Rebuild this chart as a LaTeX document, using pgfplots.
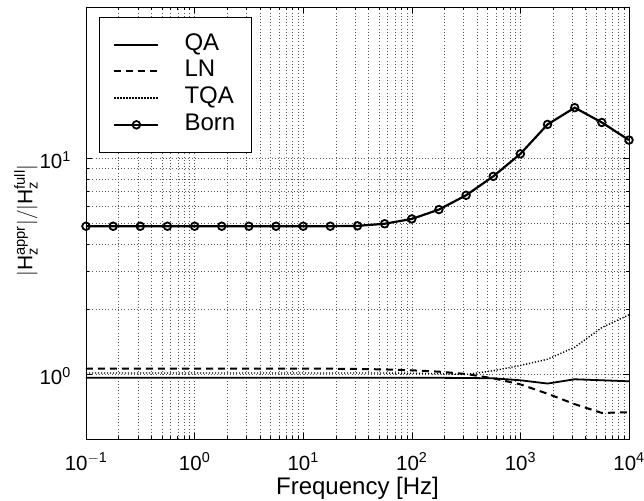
\documentclass[border=0pt]{standalone}
\usepackage{fontspec}
\setmainfont{Liberation Sans}
\setsansfont{Liberation Sans}
\usepackage{pgfplots}
\pgfplotsset{compat=1.18}
\pgfplotstableread{
x Born QA LN TQA
0.1     4.83 0.96 1.060 1.010
0.1778  4.83 0.96 1.060 1.010
0.3162  4.83 0.96 1.060 1.010
0.5623  4.83 0.96 1.060 1.010
1       4.83 0.96 1.060 1.010
1.778   4.83 0.96 1.060 1.010
3.162   4.83 0.96 1.060 1.010
5.623   4.83 0.96 1.060 1.010
10      4.83 0.96 1.060 1.010
17.78   4.83 0.96 1.058 1.010
31.62   4.85 0.96 1.055 1.010
56.23   4.96 0.96 1.050 1.010
100     5.22 0.96 1.040 1.008
177.8   5.77 0.96 1.025 1.003
316.2   6.72 0.958 1.000 0.995
562.3   8.22 0.955 0.955 1.035
1000    10.45 0.935 0.895 1.095
1778    14.3 0.903 0.810 1.170
3162    17.1 0.945 0.725 1.330
5623    14.6 0.935 0.660 1.640
10000   12.1 0.925 0.665 1.880
}\datatable
\begin{document}
\begin{tikzpicture}
\useasboundingbox (-86pt,-61pt) rectangle (558pt,439pt);
\begin{axis}[
  xmode=log, ymode=log,
  scale only axis, width=543pt, height=432pt,
  xmin=0.1, xmax=10000, ymin=0.5, ymax=50,
  xtick={0.1,1,10,100,1000,10000},
  xticklabels={$\mathsf{10^{-1}}$,$\mathsf{10^{0}}$,$\mathsf{10^{1}}$,$\mathsf{10^{2}}$,$\mathsf{10^{3}}$,$\mathsf{10^{4}}$},
  ytick={1,10},
  yticklabels={$\mathsf{10^{0}}$,$\mathsf{10^{1}}$},
  grid=both,
  major grid style={black!65, dash pattern=on 0.8pt off 2.4pt, line width=0.5pt},
  minor grid style={black!65, dash pattern=on 0.8pt off 2.4pt, line width=0.5pt},
  axis line style={black, line width=0.8pt},
  tick style={black, line width=0.6pt},
  major tick length=6pt, minor tick length=3.5pt,
  tick align=inside,
  ticklabel style={font=\fontsize{20.5}{24}\selectfont, inner sep=0pt},
  xticklabel style={anchor=base, yshift=-31pt},
  yticklabel style={anchor=base east, xshift=-15pt, yshift=-11pt},
  xlabel={Frequency [Hz]},
  ylabel={$\mathsf{|H_z^{appr}|/|H_z^{full}|}$},
  xlabel style={font=\fontsize{24}{28}\selectfont, at={(axis description cs:0.5,-0.1296)}, anchor=base},
  ylabel style={font=\fontsize{21}{25}\selectfont, at={(axis description cs:-0.1105,0.506)}, anchor=center},
  clip=false,
  legend style={at={(axis description cs:0.024,0.977)}, anchor=north west,
    font=\fontsize{24}{28}\selectfont, draw=black, line width=0.6pt,
    inner xsep=14pt, inner ysep=17pt, row sep=5.7pt, fill=white,
    cells={anchor=west},
    nodes={inner xsep=2pt, inner ysep=0pt, text height=16pt, text depth=5pt},
    /tikz/every odd column/.append style={column sep=23pt}},
  legend cell align=left,
  legend image code/.code={\draw[mark repeat=2,mark phase=2,#1] plot coordinates {(0pt,0pt) (22pt,0pt) (44pt,0pt)};},
]
\addplot[black, line width=1.8pt, no marks] table[x=x,y=QA] {\datatable};
\addlegendentry{QA}
\addplot[black, line width=2pt, dash pattern=on 7pt off 5pt, no marks] table[x=x,y=LN] {\datatable};
\addlegendentry{LN}
\addplot[black, line width=1.4pt, dash pattern=on 1.2pt off 1.8pt, no marks] table[x=x,y=TQA] {\datatable};
\addlegendentry{TQA}
\addplot[black, line width=2.2pt, mark=o, mark size=3.8pt, mark options={line width=1.8pt, solid}] table[x=x,y=Born] {\datatable};
\addlegendentry{Born}
\end{axis}
\end{tikzpicture}
\end{document}
